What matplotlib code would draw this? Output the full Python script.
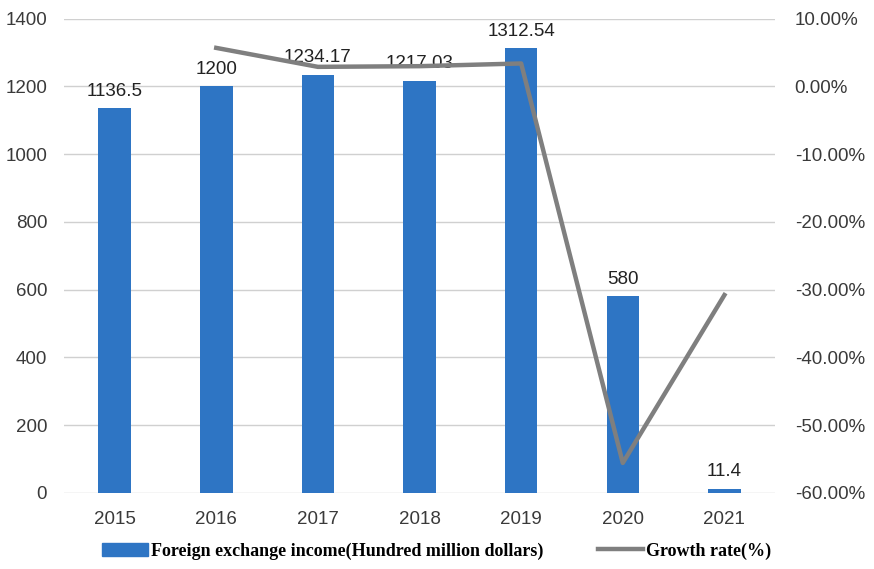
import numpy as np
import matplotlib.pyplot as plt
from matplotlib.ticker import FuncFormatter
from matplotlib.patches import Patch
from matplotlib.lines import Line2D

# Data
years = ["2015", "2016", "2017", "2018", "2019", "2020", "2021"]
income = [1136.5, 1200, 1234.17, 1217.03, 1312.54, 580, 11.4]
income_labels = ["1136.5", "1200", "1234.17", "1217.03", "1312.54", "580", "11.4"]
growth_years = ["2016", "2017", "2018", "2019", "2020", "2021"]
growth = [5.7, 2.9, 3.0, 3.4, -55.6, -30.8]

bar_color = "#2E75C4"
line_color = "#7F7F7F"
text_color = "#3A3A3A"
plt.rcParams["font.family"] = ["Liberation Sans", "DejaVu Sans"]

fig = plt.figure(figsize=(8.74, 5.69), dpi=100)
ax = fig.add_axes([0.073, 0.134, 0.814, 0.833])

x = np.arange(len(years))
ax.bar(x, income, width=0.32, color=bar_color, zorder=3)
for xi, v, lab in zip(x, income, income_labels):
    ax.text(xi, v + 25, lab, ha="center", va="bottom", fontsize=13.5, color="#222222", zorder=5)

ax.set_ylim(0, 1400)
ax.set_yticks(np.arange(0, 1401, 200))
ax.set_xlim(-0.5, len(years) - 0.5)
ax.set_xticks(x)
ax.set_xticklabels(years)
ax.grid(axis="y", color="#D0D0D0", linewidth=1, zorder=0)
ax.tick_params(axis="y", length=0, labelsize=13.5, colors=text_color, pad=12)
ax.tick_params(axis="x", length=0, labelsize=13.5, colors=text_color, pad=13)
for s in ax.spines.values():
    s.set_visible(False)

# Growth rate on right axis
ax2 = ax.twinx()
gx = [years.index(y) for y in growth_years]
ax2.plot(gx, growth, color=line_color, linewidth=3.2, zorder=4)
ax2.set_ylim(-60, 10)
ax2.set_yticks(np.arange(-60, 11, 10))
ax2.yaxis.set_major_formatter(FuncFormatter(lambda v, p: f"{v:.2f}%"))
ax2.tick_params(axis="y", length=0, labelsize=13.5, colors=text_color, pad=14)
for s in ax2.spines.values():
    s.set_visible(False)

# Legend
handles = [Patch(color=bar_color), Line2D([0], [0], color=line_color, linewidth=3.2)]
labels = ["Foreign exchange income(Hundred million dollars)", "Growth rate(%)"]
fig.legend(handles, labels, loc="lower center", bbox_to_anchor=(0.5, -0.012), ncol=2,
           frameon=False, columnspacing=3.0, handlelength=2.5, handletextpad=0.2,
           prop={"family": "Liberation Serif", "weight": "bold", "size": 13})

fig.savefig("out.png", dpi=100)
